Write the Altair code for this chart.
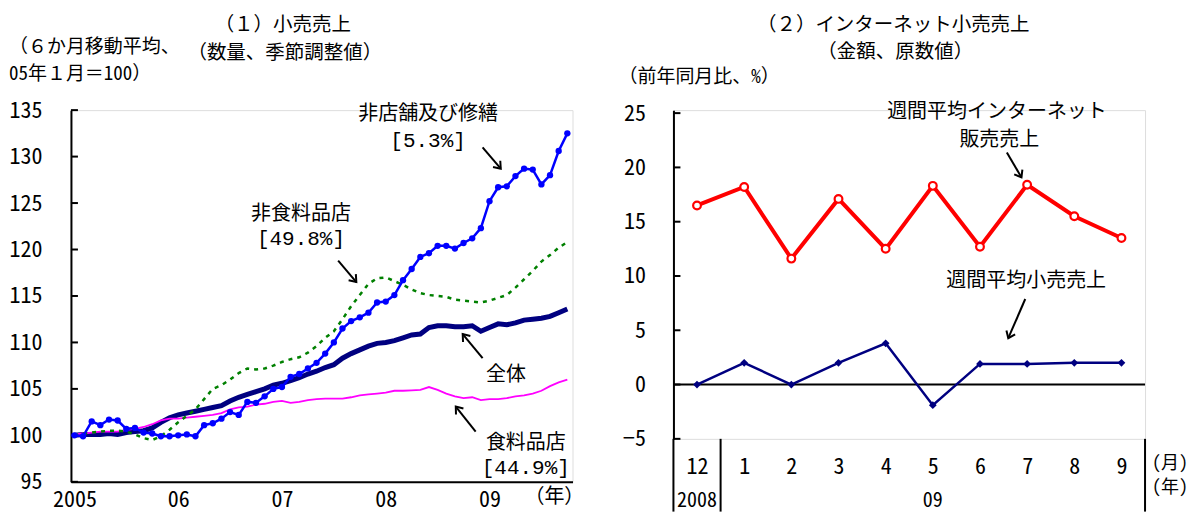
import math
import altair as alt
import pandas as pd

F = "Noto Sans Mono CJK JP, Noto Sans CJK JP, sans-serif"
FM = "Liberation Mono, DejaVu Sans Mono, monospace"

# ---------------- (1) retail sales, 6-month moving average (Jan 2005 = 100)
month_index = list(range(58))  # Jan 2005 ... Oct 2009
nonstore = [100.0, 99.9, 101.5, 101.1, 101.7, 101.6, 100.7, 100.8, 100.3, 100.2,
            99.9, 99.9, 100.0, 100.1, 99.9, 101.1, 101.3, 101.8, 102.5, 102.2,
            103.6, 103.5, 104.2, 105.0, 105.2, 106.3, 106.6, 107.2, 107.8, 108.8,
            110.0, 111.5, 112.3, 112.7, 113.2, 114.3, 114.4, 115.1, 116.7, 117.9,
            119.2, 119.6, 120.4, 120.4, 120.1, 120.7, 121.2, 122.3, 125.2, 126.7,
            126.8, 127.9, 128.7, 128.6, 127.0, 128.0, 130.6, 132.5]
nonfood = [100.0, 100.2, 100.3, 100.4, 100.5, 100.5, 100.4, 100.1, 99.7, 99.5,
           99.9, 100.6, 101.4, 102.1, 102.8, 103.9, 105.0, 105.4, 106.0, 106.7,
           107.2, 107.1, 107.2, 107.5, 107.9, 108.2, 108.4, 108.9, 109.6, 110.5,
           111.2, 112.5, 113.9, 115.1, 116.3, 116.9, 117.0, 116.6, 116.2, 115.7,
           115.3, 115.1, 115.0, 114.9, 114.6, 114.5, 114.4, 114.3, 114.5, 114.8,
           115.1, 115.9, 116.8, 117.7, 118.7, 119.4, 120.2, 120.8]
total = [100.0, 100.1, 100.1, 100.1, 100.2, 100.1, 100.3, 100.4, 100.5, 100.8,
         101.4, 101.9, 102.2, 102.4, 102.6, 102.8, 103.0, 103.2, 103.7, 104.1,
         104.4, 104.7, 105.0, 105.4, 105.6, 105.9, 106.2, 106.6, 106.9, 107.3,
         107.6, 108.3, 108.8, 109.2, 109.6, 109.9, 110.0, 110.2, 110.5, 110.8,
         110.9, 111.6, 111.8, 111.8, 111.7, 111.7, 111.8, 111.2, 111.6, 112.0,
         111.9, 112.1, 112.4, 112.5, 112.6, 112.8, 113.2, 113.6]
food = [100.1, 100.2, 100.3, 100.4, 100.4, 100.4, 100.6, 100.7, 100.9, 101.2,
        101.6, 101.8, 101.8, 101.9, 102.0, 102.1, 102.2, 102.4, 102.8, 103.0,
        103.1, 103.3, 103.4, 103.6, 103.7, 103.5, 103.6, 103.8, 103.9, 103.95,
        103.95, 103.95, 104.1, 104.3, 104.4, 104.5, 104.6, 104.8, 104.8, 104.85,
        104.9, 105.2, 104.9, 104.5, 104.2, 104.0, 104.1, 103.8, 103.9, 103.9,
        104.0, 104.2, 104.3, 104.5, 104.8, 105.3, 105.7, 106.0]
year_tick_values = [0, 12, 24, 36, 48]
year_tick_labels = ["2005", "06", "07", "08", "09"]
left_y_ticks = [95, 100, 105, 110, 115, 120, 125, 130, 135]

left_title_lines = ["（１）小売売上", "（数量、季節調整値）"]
left_axis_title_lines = ["（６か月移動平均、", "05年１月＝100）"]

left_labels = ["非店舗及び修繕", "非食料品店", "全体", "食料品店", "（年）"]
left_label_m = [40.9, 26.2, 49.9, 52.2, 55.5]
left_label_v = [134.57, 123.82, 106.5, 99.2, 93.39]
left_weights = ["[5.3%]", "[49.8%]", "[44.9%]"]
left_weight_m = [40.9, 26.2, 52.2]
left_weight_v = [131.67, 121.13, 96.5]

left_arrow_m1 = [47.2, 30.5, 47.2, 46.4]
left_arrow_v1 = [131.0, 118.8, 108.3, 100.4]
left_arrow_m2 = [49.3, 32.6, 44.9, 44.1]
left_arrow_v2 = [128.7, 116.5, 110.9, 103.1]

# ---------------- (2) internet retail sales, y/y %
months = ["12", "1", "2", "3", "4", "5", "6", "7", "8", "9"]
internet = [16.5, 18.2, 11.6, 17.1, 12.5, 18.3, 12.7, 18.4, 15.5, 13.5]
retail = [0.0, 2.0, 0.0, 2.0, 3.8, -1.9, 1.9, 1.9, 2.0, 2.0]
right_y_ticks = [-5, 0, 5, 10, 15, 20, 25]

right_title_lines = ["（２）インターネット小売売上", "（金額、原数値）"]
right_axis_title_lines = ["（前年同月比、%）"]

right_labels = ["週間平均インターネット", "販売売上", "週間平均小売売上", "2008", "09"]
right_label_i = [6.36, 6.41, 6.98, 0.0, 5.0]
right_label_v = [25.09, 22.51, 9.57, -10.69, -10.69]
unit_labels = ["(月)", "(年)"]
unit_label_i = [10.03, 10.03]
unit_label_v = [-7.3, -9.5]

right_arrow_i1 = [6.57, 6.96]
right_arrow_v1 = [21.38, 7.88]
right_arrow_i2 = [6.88, 6.60]
right_arrow_v2 = [19.08, 4.27]

separator_i = [-0.5, 0.5, 9.5]
separator_bottom = -11.7

# ---------------- helpers
LW, LH = 502, 372
RW, RH = 472, 329
L_XDOM, L_YDOM = [-0.4, 57.6], [95, 135]
R_XDOM, R_YDOM = [-0.5, 9.5], [-5, 25.276]
ARROW = "M -1 -0.75 L 0 0 L -1 0.75"


def js_list(lst):
    return "[" + ",".join(repr(s) for s in lst) + "]"


def head_angles(x1, y1, x2, y2, xdom, ydom, w, h):
    sx = w / (xdom[1] - xdom[0])
    sy = h / (ydom[1] - ydom[0])
    out = []
    for a, b, c, d in zip(x1, y1, x2, y2):
        dx = (c - a) * sx
        dy = (b - d) * sy
        out.append(math.degrees(math.atan2(dy, dx)) % 360)
    return out


def text_line(txt, x, y, size, align):
    return alt.Chart(pd.DataFrame({"t": [txt]})).mark_text(
        font=F, fontSize=size, color="black", align=align, baseline="middle"
    ).encode(x=alt.value(x), y=alt.value(y), text="t:N")


# ---------------- left panel
xL = alt.X("m:Q", scale=alt.Scale(domain=L_XDOM, nice=False, zero=False),
           axis=alt.Axis(values=year_tick_values,
                         labelExpr=f"{js_list(year_tick_labels)}[indexof({js_list(year_tick_values)}, datum.value)]",
                         title=None, grid=False, ticks=False, labelPadding=8,
                         labelFontSize=22, labelFont=F, labelColor="black",
                         labelFlush=False, labelOverlap=False, labelBound=False,
                         domainColor="black", domainWidth=2))
yL = alt.Y("v:Q", scale=alt.Scale(domain=L_YDOM, nice=False, zero=False),
           axis=alt.Axis(values=left_y_ticks, grid=False, ticks=False, labelPadding=29,
                         labelFontSize=22, labelFont=F, labelColor="black",
                         domainColor="black", domainWidth=2, title=None))


def series_df(vals):
    return pd.DataFrame({"m": month_index, "v": vals})


l_ticks = alt.Chart(pd.DataFrame({"v": left_y_ticks})).mark_rule(
    color="black", strokeWidth=2).encode(x=alt.value(0), x2=alt.value(7), y=yL)
l_total = alt.Chart(series_df(total)).mark_line(color="#000080", strokeWidth=5).encode(x=xL, y=yL)
l_food = alt.Chart(series_df(food)).mark_line(color="#FF00FF", strokeWidth=1.8).encode(x=xL, y=yL)
l_nonfood = alt.Chart(series_df(nonfood)).mark_line(
    color="#008000", strokeWidth=2.5, strokeDash=[4, 5]).encode(x=xL, y=yL)
l_nonstore = alt.Chart(series_df(nonstore)).mark_line(color="#0000FF", strokeWidth=2.5).encode(x=xL, y=yL)
l_nonstore_pts = alt.Chart(series_df(nonstore)).mark_circle(
    color="#0000FF", size=40, opacity=1).encode(x=xL, y=yL)

l_text = alt.Chart(pd.DataFrame({"m": left_label_m, "v": left_label_v, "t": left_labels})).mark_text(
    font=F, fontSize=20, color="black", align="center", baseline="middle").encode(x=xL, y=yL, text="t:N")
l_weights = alt.Chart(pd.DataFrame({"m": left_weight_m, "v": left_weight_v, "t": left_weights})).mark_text(
    font=FM, fontSize=21, color="black", align="center", baseline="middle").encode(x=xL, y=yL, text="t:N")
l_arrows = alt.Chart(pd.DataFrame({"m": left_arrow_m1, "v": left_arrow_v1,
                                   "m2": left_arrow_m2, "v2": left_arrow_v2})).mark_rule(
    color="black", strokeWidth=2).encode(x=xL, y=yL, x2="m2:Q", y2="v2:Q")
l_heads = alt.Chart(pd.DataFrame({
    "m": left_arrow_m2, "v": left_arrow_v2,
    "ang": head_angles(left_arrow_m1, left_arrow_v1, left_arrow_m2, left_arrow_v2, L_XDOM, L_YDOM, LW, LH)
})).mark_point(shape=ARROW, filled=False, color="black", strokeWidth=2, size=160, opacity=1).encode(
    x=xL, y=yL, angle=alt.Angle("ang:Q", scale=None))

l_title1 = text_line(left_title_lines[0], 212, -85, 19.5, "center")
l_title2 = text_line(left_title_lines[1], 214, -57.5, 19.5, "center")
l_axt1 = text_line(left_axis_title_lines[0], -62, -63, 19, "left")
l_axt2 = text_line(left_axis_title_lines[1], -62, -36, 19, "left")

left = alt.layer(l_ticks, l_total, l_food, l_nonfood, l_nonstore, l_nonstore_pts,
                 l_text, l_weights, l_arrows, l_heads, l_title1, l_title2, l_axt1, l_axt2
                 ).properties(width=LW, height=LH)

# ---------------- right panel
xR = alt.X("i:Q", scale=alt.Scale(domain=R_XDOM, nice=False, zero=False),
           axis=alt.Axis(values=list(range(len(months))),
                         labelExpr=f"{js_list(months)}[datum.value]",
                         title=None, grid=False, ticks=False, domain=False, labelPadding=18,
                         labelFontSize=22, labelFont=F, labelColor="black",
                         labelFlush=False, labelOverlap=False, labelBound=False))
yR = alt.Y("v:Q", scale=alt.Scale(domain=R_YDOM, nice=False, zero=False),
           axis=alt.Axis(values=right_y_ticks, grid=False, ticks=False, labelPadding=28,
                         labelFontSize=22, labelFont=F, labelColor="black",
                         domainColor="black", domainWidth=2, title=None))

idx = list(range(len(months)))
r_ticks = alt.Chart(pd.DataFrame({"v": right_y_ticks})).mark_rule(
    color="black", strokeWidth=2).encode(x=alt.value(0), x2=alt.value(7), y=yR)
r_zero = alt.Chart(pd.DataFrame({"v": [0]})).mark_rule(color="black", strokeWidth=2).encode(y=yR)
r_sep = alt.Chart(pd.DataFrame({"i": separator_i, "v": [R_YDOM[0]] * 3,
                                "v2": [separator_bottom] * 3})).mark_rule(
    color="black", strokeWidth=2).encode(x=xR, y=yR, y2="v2:Q")
r_int_line = alt.Chart(pd.DataFrame({"i": idx, "v": internet})).mark_line(
    color="#FF0000", strokeWidth=4).encode(x=xR, y=yR)
r_int_pts = alt.Chart(pd.DataFrame({"i": idx, "v": internet})).mark_point(
    shape="circle", filled=True, fill="white", stroke="#FF0000", strokeWidth=2.2,
    size=60, opacity=1).encode(x=xR, y=yR)
r_ret_line = alt.Chart(pd.DataFrame({"i": idx, "v": retail})).mark_line(
    color="#000080", strokeWidth=2.5).encode(x=xR, y=yR)
r_ret_pts = alt.Chart(pd.DataFrame({"i": idx, "v": retail})).mark_point(
    shape="diamond", filled=True, color="#000080", size=60, opacity=1).encode(x=xR, y=yR)
r_text = alt.Chart(pd.DataFrame({"i": right_label_i, "v": right_label_v, "t": right_labels})).mark_text(
    font=F, fontSize=20, color="black", align="center", baseline="middle").encode(x=xR, y=yR, text="t:N")
r_unit = alt.Chart(pd.DataFrame({"i": unit_label_i, "v": unit_label_v, "t": unit_labels})).mark_text(
    font=F, fontSize=18, color="black", align="center", baseline="middle").encode(x=xR, y=yR, text="t:N")
r_arrows = alt.Chart(pd.DataFrame({"i": right_arrow_i1, "v": right_arrow_v1,
                                   "i2": right_arrow_i2, "v2": right_arrow_v2})).mark_rule(
    color="black", strokeWidth=2).encode(x=xR, y=yR, x2="i2:Q", y2="v2:Q")
r_heads = alt.Chart(pd.DataFrame({
    "i": right_arrow_i2, "v": right_arrow_v2,
    "ang": head_angles(right_arrow_i1, right_arrow_v1, right_arrow_i2, right_arrow_v2, R_XDOM, R_YDOM, RW, RH)
})).mark_point(shape=ARROW, filled=False, color="black", strokeWidth=2, size=160, opacity=1).encode(
    x=xR, y=yR, angle=alt.Angle("ang:Q", scale=None))

r_title1 = text_line(right_title_lines[0], 220, -85.5, 19.5, "center")
r_title2 = text_line(right_title_lines[1], 222, -58, 19.5, "center")
r_axt1 = text_line(right_axis_title_lines[0], -55, -33.5, 19, "left")

right = alt.layer(r_ticks, r_zero, r_sep, r_int_line, r_int_pts, r_ret_line, r_ret_pts,
                  r_text, r_unit, r_arrows, r_heads, r_title1, r_title2, r_axt1
                  ).properties(width=RW, height=RH)

chart = alt.hconcat(left, right, spacing=32).properties(
    padding={"left": 0, "top": 6, "right": 0, "bottom": 0}
).configure_view(stroke=None).configure(background="white")

chart.save("out.html", embed_options={"renderer": "svg", "actions": False})
